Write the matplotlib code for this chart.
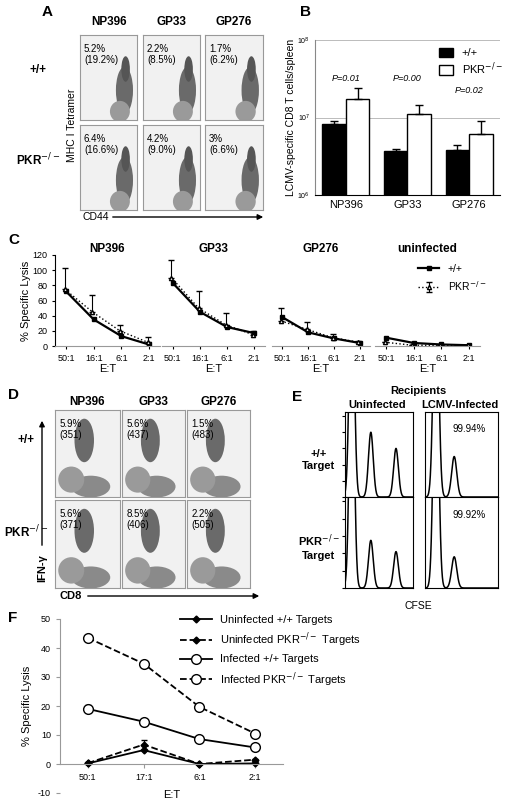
import numpy as np
import matplotlib
matplotlib.use("Agg")
import matplotlib.pyplot as plt
from matplotlib.patches import Ellipse

plt.rcParams['font.family'] = ['Liberation Sans', 'DejaVu Sans']

W, H = 506, 800
fig = plt.figure(figsize=(5.06, 8), dpi=100)

def rect(x0, y0, x1, y1):
    return [x0 / W, 1 - y1 / H, (x1 - x0) / W, (y1 - y0) / H]

def ftext(x, y, s, **kw):
    fig.text(x / W, 1 - y / H, s, **kw)

# ---------------- data ----------------
tet_epitopes = ["NP396", "GP33", "GP276"]
tet_wt = ["5.2%\n(19.2%)", "2.2%\n(8.5%)", "1.7%\n(6.2%)"]
tet_ko = ["6.4%\n(16.6%)", "4.2%\n(9.0%)", "3%\n(6.6%)"]

b_cats = ["NP396", "GP33", "GP276"]
b_wt = [8.3e6, 3.7e6, 3.8e6]
b_wt_err = [0.8e6, 0.2e6, 0.6e6]
b_ko = [1.75e7, 1.1e7, 6.2e6]
b_ko_err = [0.65e7, 0.35e7, 2.7e6]
b_p = ["P=0.01", "P=0.00", "P=0.02"]
b_p_y = [3.0e7, 3.0e7, 2.1e7]

c_titles = ["NP396", "GP33", "GP276", "uninfected"]
c_ratios = ["50:1", "16:1", "6:1", "2:1"]
c_wt = [[72, 35, 13, 2], [83, 45, 25, 17], [38, 18, 10, 4], [11, 4, 2, 1]]
c_ko = [[75, 45, 20, 5], [90, 50, 28, 15], [33, 22, 11, 5], [5, 1, 1, 1]]
c_ko_err = [[28, 22, 8, 7], [24, 22, 15, 5], [17, 10, 5, 2], [0, 0, 0, 0]]

d_epitopes = ["NP396", "GP33", "GP276"]
d_wt = ["5.9%\n(351)", "5.6%\n(437)", "1.5%\n(483)"]
d_ko = ["5.6%\n(371)", "8.5%\n(406)", "2.2%\n(505)"]

e_cols = ["Uninfected", "LCMV-Infected"]
e_pct = ["99.94%", "99.92%"]
# (position, height) of CFSE peaks per histogram
e_peaks = [[[(0.1, 3.0), (0.38, 0.8), (0.75, 0.6)], [(0.15, 3.0), (0.4, 0.5)]],
           [[(0.1, 3.0), (0.38, 0.55), (0.75, 0.42)], [(0.15, 3.0), (0.4, 0.36)]]]

f_ratios = ["50:1", "17:1", "6:1", "2:1"]
f_uninf_wt = [0.2, 4.8, 0, 0.2]
f_uninf_ko = [0.3, 6.7, 0, 1.5]
f_inf_wt = [19, 14.6, 8.6, 5.7]
f_inf_ko = [43.5, 34.6, 19.7, 10.5]
f_err_uninf_ko = [0.3, 1.5, 0, 0.3]
f_err_inf_wt = [1.2, 0.5, 0.3, 0.3]

# ---------------- panel letters ----------------
for (x, y, s) in [(42, 12, "A"), (300, 12, "B"), (8, 240, "C"), (8, 395, "D"),
                  (292, 397, "E"), (8, 618, "F")]:
    ftext(x, y, s, fontsize=11, fontweight='bold', va='center')

def flow_box(r, label, blobs):
    a = fig.add_axes(r)
    a.set_xlim(0, 1); a.set_ylim(0, 1)
    a.set_xticks([]); a.set_yticks([])
    a.set_facecolor('#f1f1f1')
    for (cx, cy, w, h, c) in blobs:
        a.add_patch(Ellipse((cx, cy), w, h, color=c, lw=0))
    a.text(0.07, 0.9, label, fontsize=7, va='top', ha='left')
    for s in a.spines.values():
        s.set_color('#999999')
    return a

# ---------------- A ----------------
a_x = [(80, 137), (143, 200), (205, 263)]
a_y = [(35, 120), (125, 210)]
tet_blobs = [(0.78, 0.35, 0.3, 0.55, '#6a6a6a'), (0.7, 0.1, 0.35, 0.25, '#9a9a9a'),
             (0.8, 0.6, 0.15, 0.3, '#555555')]
for i, (x0, x1) in enumerate(a_x):
    ftext((x0 + x1) / 2, 22, tet_epitopes[i], fontsize=8.5, fontweight='bold',
          ha='center', va='center')
    flow_box(rect(x0, a_y[0][0], x1, a_y[0][1]), tet_wt[i], tet_blobs)
    flow_box(rect(x0, a_y[1][0], x1, a_y[1][1]), tet_ko[i], tet_blobs)
ftext(38, 70, "+/+", fontsize=8.5, fontweight='bold', ha='center', va='center')
ftext(38, 160, "PKR$^{-/-}$", fontsize=8.5, fontweight='bold', ha='center', va='center')
ftext(72, 125, "MHC I Tetramer", fontsize=7.5, rotation=90, ha='center', va='center')
ftext(83, 217, "CD44", fontsize=7.5, ha='left', va='center')
fig.add_artist(matplotlib.patches.FancyArrowPatch((110 / W, 1 - 217 / H), (266 / W, 1 - 217 / H),
               transform=fig.transFigure, arrowstyle='-|>', mutation_scale=8, lw=1, color='k'))

# ---------------- B ----------------
axb = fig.add_axes(rect(315, 40, 500, 195))
xb = np.arange(3)
w = 0.38
axb.bar(xb - w / 2, b_wt, w, color='black', edgecolor='black', label='+/+',
        yerr=[[0] * 3, b_wt_err], error_kw=dict(lw=1, capsize=3))
axb.bar(xb + w / 2, b_ko, w, color='white', edgecolor='black', label='PKR$^{-/-}$',
        yerr=[[0] * 3, b_ko_err], error_kw=dict(lw=1, capsize=3))
axb.set_yscale('log')
axb.set_ylim(1e6, 1e8)
axb.set_xlim(-0.5, 2.5)
axb.set_xticks(xb)
axb.set_xticklabels(b_cats, fontsize=8)
axb.set_yticks([1e6, 1e7, 1e8])
axb.set_yticklabels(["10$^6$", "10$^7$", "10$^8$"], fontsize=5)
axb.yaxis.set_minor_locator(matplotlib.ticker.NullLocator())
axb.grid(axis='y', color='#bbbbbb', lw=0.7)
axb.set_axisbelow(True)
axb.tick_params(length=0)
for s in ['top', 'right']:
    axb.spines[s].set_visible(False)
axb.spines['left'].set_color('#888888')
for i in range(3):
    axb.text(xb[i], b_p_y[i], b_p[i], fontsize=6.5, style='italic', ha='center')
axb.set_ylabel("LCMV-specific CD8 T cells/spleen", fontsize=7.5, labelpad=1)
axb.legend(loc='upper right', fontsize=8, frameon=False, handlelength=1.2,
           handleheight=1.0, borderaxespad=0.0, labelspacing=0.2,
           bbox_to_anchor=(1.04, 0.98))

# ---------------- C ----------------
c_x = [(55, 160), (162, 265), (272, 370), (375, 480)]
for k, (x0, x1) in enumerate(c_x):
    a = fig.add_axes(rect(x0, 255, x1, 346))
    xs = np.arange(4)
    a.plot(xs, c_wt[k], color='k', lw=1.6, marker='s', ms=2.5, label='+/+')
    a.errorbar(xs - 0.05, c_ko[k], yerr=[[0] * 4, c_ko_err[k]], color='k', ls=':',
               lw=1, marker='^', ms=3, mfc='white', capsize=2, elinewidth=0.8,
               label='PKR$^{-/-}$')
    a.set_ylim(0, 120)
    a.set_xlim(-0.4, 3.4)
    a.set_xticks(xs)
    a.set_xticklabels(c_ratios, fontsize=6.5)
    a.set_yticks(range(0, 121, 20))
    a.tick_params(labelsize=6.5, length=2)
    a.spines['top'].set_visible(False)
    a.spines['right'].set_visible(False)
    a.spines['bottom'].set_color('#999999')
    a.set_xlabel("E:T", fontsize=8, labelpad=1)
    a.set_title(c_titles[k], fontsize=8.5, fontweight='bold', pad=2)
    if k == 0:
        a.set_ylabel("% Specific Lysis", fontsize=8, labelpad=1)
    else:
        a.spines['left'].set_visible(False)
        a.set_yticks([])
    if k == 3:
        a.legend(loc='upper right', fontsize=7.5, frameon=False,
                 borderaxespad=0, bbox_to_anchor=(1.1, 0.95))

# ---------------- D ----------------
d_x = [(55, 120), (122, 185), (187, 250)]
d_y = [(410, 497), (500, 588)]
ifn_blobs = [(0.55, 0.12, 0.6, 0.25, '#8a8a8a'), (0.25, 0.2, 0.4, 0.3, '#9a9a9a'),
             (0.45, 0.65, 0.3, 0.5, '#6a6a6a')]
for i, (x0, x1) in enumerate(d_x):
    ftext((x0 + x1) / 2, 402, d_epitopes[i], fontsize=8.5, fontweight='bold',
          ha='center', va='center')
    flow_box(rect(x0, d_y[0][0], x1, d_y[0][1]), d_wt[i], ifn_blobs)
    flow_box(rect(x0, d_y[1][0], x1, d_y[1][1]), d_ko[i], ifn_blobs)
ftext(26, 440, "+/+", fontsize=8.5, fontweight='bold', ha='center', va='center')
ftext(26, 532, "PKR$^{-/-}$", fontsize=8.5, fontweight='bold', ha='center', va='center')
ftext(42, 568, "IFN-γ", fontsize=8, fontweight='bold', rotation=90, ha='center', va='center')
fig.add_artist(matplotlib.patches.FancyArrowPatch((42 / W, 1 - 548 / H), (42 / W, 1 - 418 / H),
               transform=fig.transFigure, arrowstyle='-|>', mutation_scale=8, lw=1, color='k'))
ftext(60, 596, "CD8", fontsize=8, fontweight='bold', ha='left', va='center')
fig.add_artist(matplotlib.patches.FancyArrowPatch((85 / W, 1 - 596 / H), (262 / W, 1 - 596 / H),
               transform=fig.transFigure, arrowstyle='-|>', mutation_scale=8, lw=1, color='k'))

# ---------------- E ----------------
e_x = [(345, 413), (425, 498)]
e_y = [(412, 497), (497, 588)]
ftext(418, 391, "Recipients", fontsize=8, fontweight='bold', ha='center', va='center')
for j, (x0, x1) in enumerate(e_x):
    ftext((x0 + x1) / 2 - 2, 405, e_cols[j], fontsize=8, fontweight='bold',
          ha='center', va='center')
xx = np.linspace(0, 1, 400)
for r, (y0, y1) in enumerate(e_y):
    for j, (x0, x1) in enumerate(e_x):
        a = fig.add_axes(rect(x0, y0, x1, y1))
        yy = np.zeros_like(xx)
        for (p, hgt) in e_peaks[r][j]:
            yy += hgt * np.exp(-0.5 * ((xx - p) / 0.035) ** 2)
        a.plot(xx, yy, color='k', lw=1.1)
        a.set_xlim(0, 1); a.set_ylim(0, 1.05)
        a.set_xticks([])
        if j == 0:
            a.set_yticks(np.linspace(0, 1, 6))
            a.set_yticklabels([])
            a.tick_params(axis='y', length=2)
        else:
            a.set_yticks([])
            a.text(0.6, 0.8, e_pct[r], fontsize=7, ha='center', va='center',
                   transform=a.transAxes)
ftext(319, 460, "+/+\nTarget", fontsize=8, fontweight='bold', ha='center', va='center')
ftext(319, 547, "PKR$^{-/-}$\nTarget", fontsize=8, fontweight='bold', ha='center', va='center')
ftext(418, 606, "CFSE", fontsize=7.5, ha='center', va='center')

# ---------------- F ----------------
axf = fig.add_axes(rect(60, 619, 283, 793))
xf = np.arange(4)
h1, = axf.plot(xf, f_uninf_wt, 'k-', marker='D', ms=3.5, lw=1.3, label='Uninfected +/+ Targets')
h2 = axf.errorbar(xf, f_uninf_ko, yerr=f_err_uninf_ko, color='k', ls='--', marker='D', ms=3.5,
                  lw=1.3, capsize=2, elinewidth=0.8, label='Uninfected PKR$^{-/-}$ Targets')
h3 = axf.errorbar(xf, f_inf_wt, yerr=f_err_inf_wt, color='k', ls='-', marker='o', ms=7,
                  mfc='white', lw=1.3, capsize=2, elinewidth=0.8, label='Infected +/+ Targets')
h4, = axf.plot(xf, f_inf_ko, 'k--', marker='o', ms=7, mfc='white', lw=1.3,
               label='Infected PKR$^{-/-}$ Targets')
axf.set_ylim(-10, 50)
axf.set_xlim(-0.5, 3.5)
axf.set_yticks(range(-10, 51, 10))
axf.set_yticklabels(["-10"] + [str(v) for v in range(0, 51, 10)])
axf.set_xticks(xf)
axf.set_xticklabels(f_ratios)
axf.tick_params(labelsize=6.5, length=3, color='#999999')
axf.spines['top'].set_visible(False)
axf.spines['right'].set_visible(False)
axf.spines['bottom'].set_position(('data', 0))
axf.spines['left'].set_bounds(0, 50)
axf.spines['left'].set_color('#999999')
axf.spines['bottom'].set_color('#999999')
axf.set_ylabel("% Specific Lysis", fontsize=8)
ftext(172, 795, "E:T", fontsize=8, ha='center', va='center')
lh = [h1, h2[0], h3[0], h4]
axf.legend(lh, [h.get_label() for h in [h1, h2, h3, h4]], loc='upper left',
           bbox_to_anchor=(0.52, 1.05), fontsize=8, frameon=False,
           handlelength=2.8, labelspacing=0.5, borderaxespad=0)

fig.savefig("out.png", dpi=100)
